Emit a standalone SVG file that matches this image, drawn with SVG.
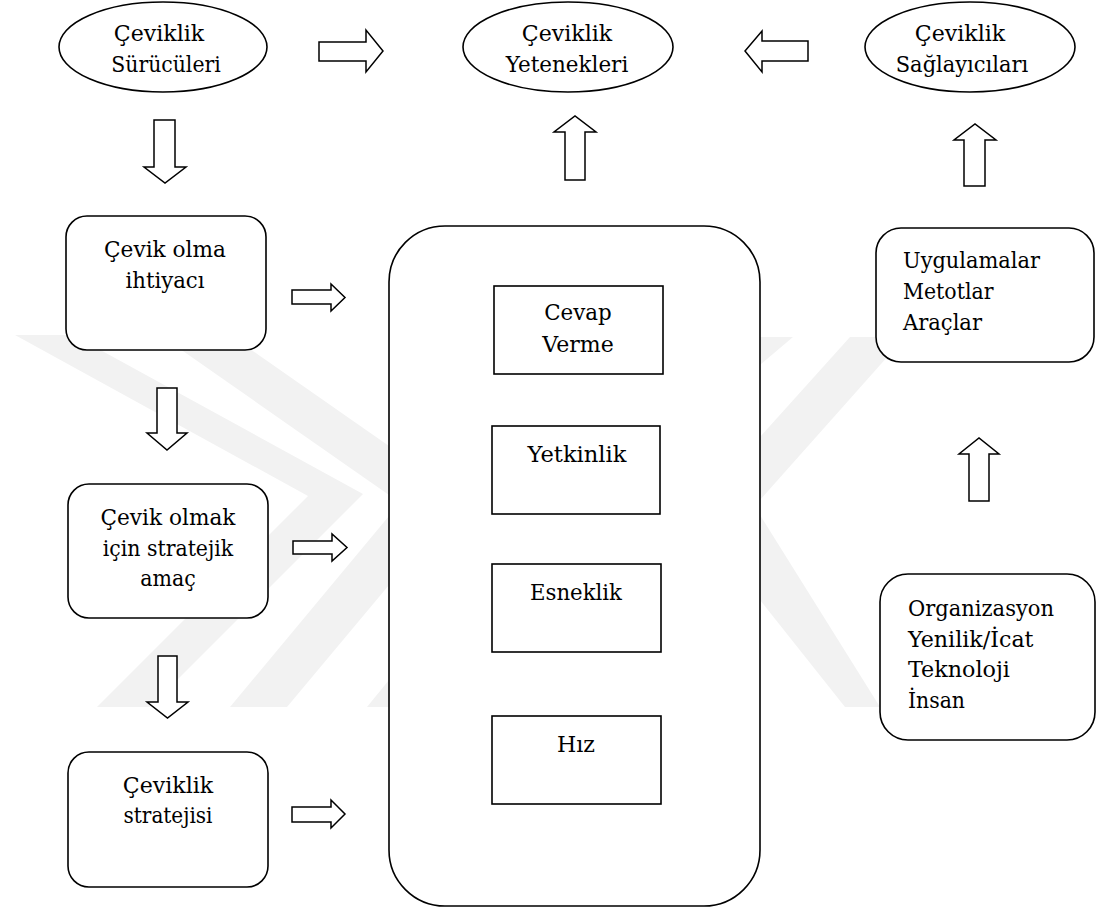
<svg xmlns="http://www.w3.org/2000/svg" width="1097" height="908" viewBox="0 0 1097 908">
<style>
  .shape { fill: #ffffff; stroke: #000000; stroke-width: 1.6; }
  .arrow { fill: #ffffff; stroke: #000000; stroke-width: 1.5; stroke-linejoin: miter; }
  .wm { fill: #f2f2f2; stroke: none; }
  .c { text-anchor: middle; }
  .t { font-family: "DejaVu Serif", "Liberation Serif", serif; font-size: 23px; fill: #000000; }
</style>
<rect x="0" y="0" width="1097" height="908" fill="#ffffff"/>
<g id="watermark">
  <polygon class="wm" points="15,335 73,335 363,494 150,707 97,707 308,496"/>
  <polygon class="wm" points="160,335 230,335 389,446 389,495"/>
  <polygon class="wm" points="230,707 287,707 389,585 389,516"/>
  <polygon class="wm" points="367,707 389,707 389,680"/>
  <polygon class="wm" points="760,337 793,337 760,365"/>
  <polygon class="wm" points="850,337 905,337 760,500 760,437"/>
  <polygon class="wm" points="760,515 880,707 845,707 760,600"/>
</g>
<g id="connectors">
  <polygon class="arrow" points="319,42 366,42 366,30 383,51 366,72 366,61 319,61"/>
  <polygon class="arrow" points="808,41 762,41 762,31 745,51 762,72 762,61 808,61"/>
  <polygon class="arrow" points="565,180 565,132 554,132 575,116 596,132 585,132 585,180"/>
  <polygon class="arrow" points="964,186 964,140 954,140 975,124 996,140 985,140 985,186"/>
  <polygon class="arrow" points="969,501 969,454 959,454 979,438 999,454 989,454 989,501"/>
  <polygon class="arrow" points="154,120 175,120 175,167 186,167 165,183 144,167 154,167"/>
  <polygon class="arrow" points="157,388 177,388 177,433 187,433 167,450 147,433 157,433"/>
  <polygon class="arrow" points="158,656 177,656 177,702 188,702 167.5,718 147,702 158,702"/>
  <polygon class="arrow" points="292,290 331,290 331,284 345,297.5 331,311 331,304 292,304"/>
  <polygon class="arrow" points="293,541 332,541 332,534 347,547.5 332,561 332,554 293,554"/>
  <polygon class="arrow" points="292,807 331,807 331,800 345,814 331,828 331,822 292,822"/>
</g>
<g id="node-surucu">
  <ellipse class="shape" cx="163" cy="47" rx="104" ry="45"/>
  <text class="t c" x="159" y="41" textLength="90.5" lengthAdjust="spacingAndGlyphs">Çeviklik</text>
  <text class="t c" x="166" y="72" textLength="109.5" lengthAdjust="spacingAndGlyphs">Sürücüleri</text>
</g>
<g id="node-yetenek">
  <ellipse class="shape" cx="568" cy="47" rx="105" ry="45"/>
  <text class="t c" x="567" y="41" textLength="90.5" lengthAdjust="spacingAndGlyphs">Çeviklik</text>
  <text class="t c" x="567" y="72" textLength="122.5" lengthAdjust="spacingAndGlyphs">Yetenekleri</text>
</g>
<g id="node-saglayici">
  <ellipse class="shape" cx="970" cy="47" rx="105" ry="45"/>
  <text class="t c" x="960" y="41" textLength="90.5" lengthAdjust="spacingAndGlyphs">Çeviklik</text>
  <text class="t c" x="962" y="72" textLength="132.5" lengthAdjust="spacingAndGlyphs">Sağlayıcıları</text>
</g>
<g id="node-ihtiyac">
  <rect class="shape" x="66" y="216" width="200" height="134" rx="21" ry="21"/>
  <text class="t c" x="165" y="257" textLength="122" lengthAdjust="spacingAndGlyphs">Çevik olma</text>
  <text class="t c" x="165" y="288" textLength="79" lengthAdjust="spacingAndGlyphs">ihtiyacı</text>
</g>
<g id="node-amac">
  <rect class="shape" x="68" y="484" width="200" height="134" rx="21" ry="21"/>
  <text class="t c" x="168" y="525" textLength="135" lengthAdjust="spacingAndGlyphs">Çevik olmak</text>
  <text class="t c" x="168" y="555.5" textLength="130.5" lengthAdjust="spacingAndGlyphs">için stratejik</text>
  <text class="t c" x="168" y="586" textLength="55.5" lengthAdjust="spacingAndGlyphs">amaç</text>
</g>
<g id="node-strateji">
  <rect class="shape" x="68" y="752" width="200" height="135" rx="21" ry="21"/>
  <text class="t c" x="168" y="793" textLength="90.5" lengthAdjust="spacingAndGlyphs">Çeviklik</text>
  <text class="t c" x="168" y="823" textLength="89" lengthAdjust="spacingAndGlyphs">stratejisi</text>
</g>
<g id="node-yetenekler-kutu">
  <rect class="shape" x="389" y="226" width="371" height="680" rx="56" ry="56"/>
</g>
<g id="node-cevap">
  <rect class="shape" x="494" y="286" width="169" height="88"/>
  <text class="t c" x="578" y="320" textLength="67.5" lengthAdjust="spacingAndGlyphs">Cevap</text>
  <text class="t c" x="578" y="352" textLength="71.5" lengthAdjust="spacingAndGlyphs">Verme</text>
</g>
<g id="node-yetkinlik">
  <rect class="shape" x="492" y="426" width="168" height="88"/>
  <text class="t c" x="577" y="462" textLength="99" lengthAdjust="spacingAndGlyphs">Yetkinlik</text>
</g>
<g id="node-esneklik">
  <rect class="shape" x="492" y="564" width="169" height="88"/>
  <text class="t c" x="576" y="600" textLength="92" lengthAdjust="spacingAndGlyphs">Esneklik</text>
</g>
<g id="node-hiz">
  <rect class="shape" x="492" y="716" width="169" height="88"/>
  <text class="t c" x="576" y="752" textLength="38" lengthAdjust="spacingAndGlyphs">Hız</text>
</g>
<g id="node-uygulama">
  <rect class="shape" x="876" y="228" width="218" height="134" rx="25" ry="25"/>
  <text class="t" x="903" y="268" textLength="137" lengthAdjust="spacingAndGlyphs">Uygulamalar</text>
  <text class="t" x="903" y="299" textLength="90.5" lengthAdjust="spacingAndGlyphs">Metotlar</text>
  <text class="t" x="903" y="330" textLength="79" lengthAdjust="spacingAndGlyphs">Araçlar</text>
</g>
<g id="node-organizasyon">
  <rect class="shape" x="880" y="574" width="215" height="166" rx="28" ry="28"/>
  <text class="t" x="908" y="616" textLength="146" lengthAdjust="spacingAndGlyphs">Organizasyon</text>
  <text class="t" x="908" y="647" textLength="125.5" lengthAdjust="spacingAndGlyphs">Yenilik/İcat</text>
  <text class="t" x="908" y="677" textLength="102" lengthAdjust="spacingAndGlyphs">Teknoloji</text>
  <text class="t" x="908" y="708" textLength="57" lengthAdjust="spacingAndGlyphs">İnsan</text>
</g>
</svg>
